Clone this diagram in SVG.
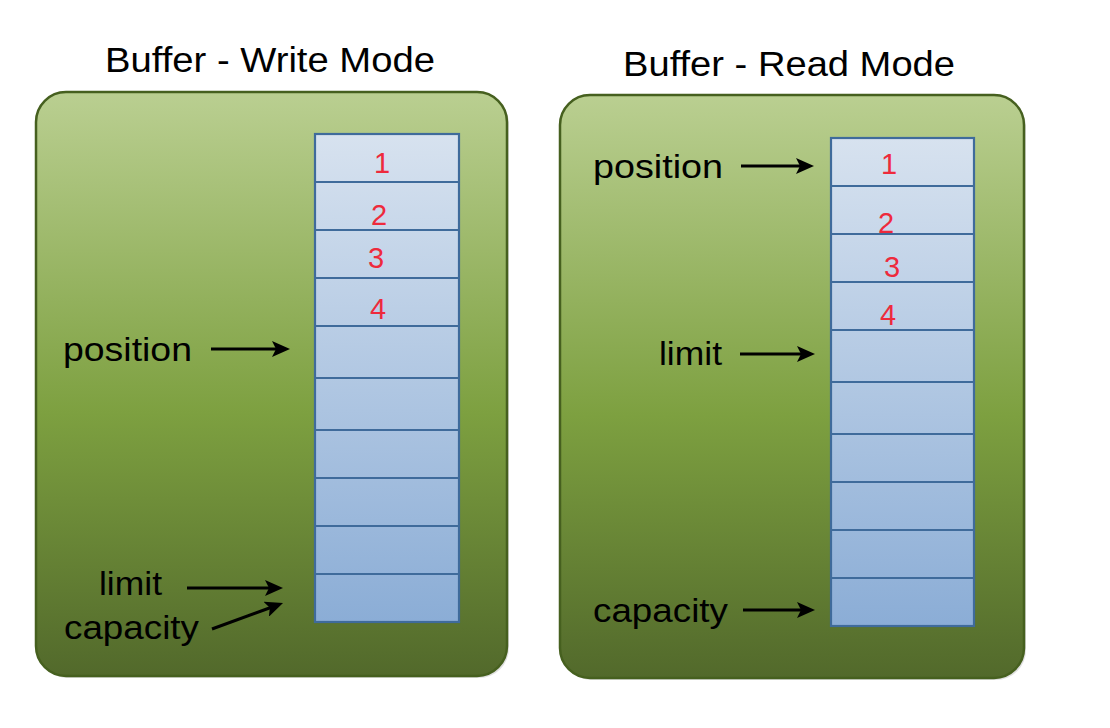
<svg xmlns="http://www.w3.org/2000/svg" width="1110" height="728" viewBox="0 0 1110 728">
  <defs>
    <linearGradient id="panelGrad" x1="0" y1="0" x2="0" y2="1">
      <stop offset="0" stop-color="#bacf91"/>
      <stop offset="0.55" stop-color="#7da040"/>
      <stop offset="1" stop-color="#52692b"/>
    </linearGradient>
    <linearGradient id="colGrad" x1="0" y1="0" x2="0" y2="1">
      <stop offset="0" stop-color="#d7e2ef"/>
      <stop offset="1" stop-color="#8badd6"/>
    </linearGradient>
    <marker id="arrow" markerUnits="userSpaceOnUse" viewBox="0 0 18 16" markerWidth="18" markerHeight="16" refX="5" refY="8" orient="auto">
      <path d="M0,0 L18,8 L0,16 L4,8 Z" fill="#000"/>
    </marker>
  </defs>
  <style>
    .panel { fill: url(#panelGrad); stroke: #46601f; stroke-width: 2.5; }
    .shadow { fill: #000; opacity: 0.12; }
    .col { fill: url(#colGrad); stroke: #3f6b9b; stroke-width: 2.2; }
    .sep { stroke: #3f6b9b; stroke-width: 2.2; }
    .title { font-family: "Liberation Sans", Arial, sans-serif; font-size: 35px; fill: #000; }
    .label { font-family: "Liberation Sans", Arial, sans-serif; font-size: 34px; fill: #000; }
    .num { font-family: "Liberation Sans", Arial, sans-serif; font-size: 29px; fill: #ee2a3c; text-anchor: middle; }
    .conn { stroke: #000; stroke-width: 3; fill: none; marker-end: url(#arrow); }
  </style>

  <rect width="1110" height="728" fill="#fff"/>

  <g id="write-mode">
    <text class="title" x="105" y="72" textLength="330" lengthAdjust="spacingAndGlyphs">Buffer - Write Mode</text>
    <rect class="shadow" x="38" y="94" width="471" height="584" rx="30"/>
    <rect class="panel" x="36" y="92" width="471" height="584" rx="30"/>
    <g id="write-buffer">
      <rect class="col" x="315" y="134" width="144" height="488"/>
      <path class="sep" d="M315,182H459M315,230H459M315,278H459M315,326H459M315,378H459M315,430H459M315,478H459M315,526H459M315,574H459"/>
      <text class="num" x="382" y="173">1</text>
      <text class="num" x="379" y="225">2</text>
      <text class="num" x="376" y="268">3</text>
      <text class="num" x="378" y="319">4</text>
    </g>
    <text id="w-position" class="label" x="63" y="361" textLength="129" lengthAdjust="spacingAndGlyphs">position</text>
    <text id="w-limit" class="label" x="99" y="595" textLength="63" lengthAdjust="spacingAndGlyphs">limit</text>
    <text id="w-capacity" class="label" x="64" y="639" textLength="135" lengthAdjust="spacingAndGlyphs">capacity</text>
  </g>

  <g id="read-mode">
    <text class="title" x="623" y="76" textLength="332" lengthAdjust="spacingAndGlyphs">Buffer - Read Mode</text>
    <rect class="shadow" x="562" y="97" width="464" height="583" rx="30"/>
    <rect class="panel" x="560" y="95" width="464" height="583" rx="30"/>
    <g id="read-buffer">
      <rect class="col" x="831" y="138" width="143" height="488"/>
      <path class="sep" d="M831,186H974M831,234H974M831,282H974M831,330H974M831,382H974M831,434H974M831,482H974M831,530H974M831,578H974"/>
      <text class="num" x="889" y="174">1</text>
      <text class="num" x="886" y="233">2</text>
      <text class="num" x="892" y="277">3</text>
      <text class="num" x="888" y="325">4</text>
    </g>
    <text id="r-position" class="label" x="593" y="178" textLength="130" lengthAdjust="spacingAndGlyphs">position</text>
    <text id="r-limit" class="label" x="659" y="365" textLength="63" lengthAdjust="spacingAndGlyphs">limit</text>
    <text id="r-capacity" class="label" x="593" y="622" textLength="135" lengthAdjust="spacingAndGlyphs">capacity</text>
  </g>

  <g id="connectors">
    <line class="conn" x1="211" y1="349" x2="277" y2="349"/>
    <line class="conn" x1="187" y1="588" x2="270" y2="588"/>
    <line class="conn" x1="212" y1="629" x2="270.8" y2="607.5"/>
    <line class="conn" x1="741" y1="166" x2="801" y2="166"/>
    <line class="conn" x1="740" y1="354" x2="802" y2="354"/>
    <line class="conn" x1="743" y1="610" x2="802" y2="610"/>
  </g>
</svg>
